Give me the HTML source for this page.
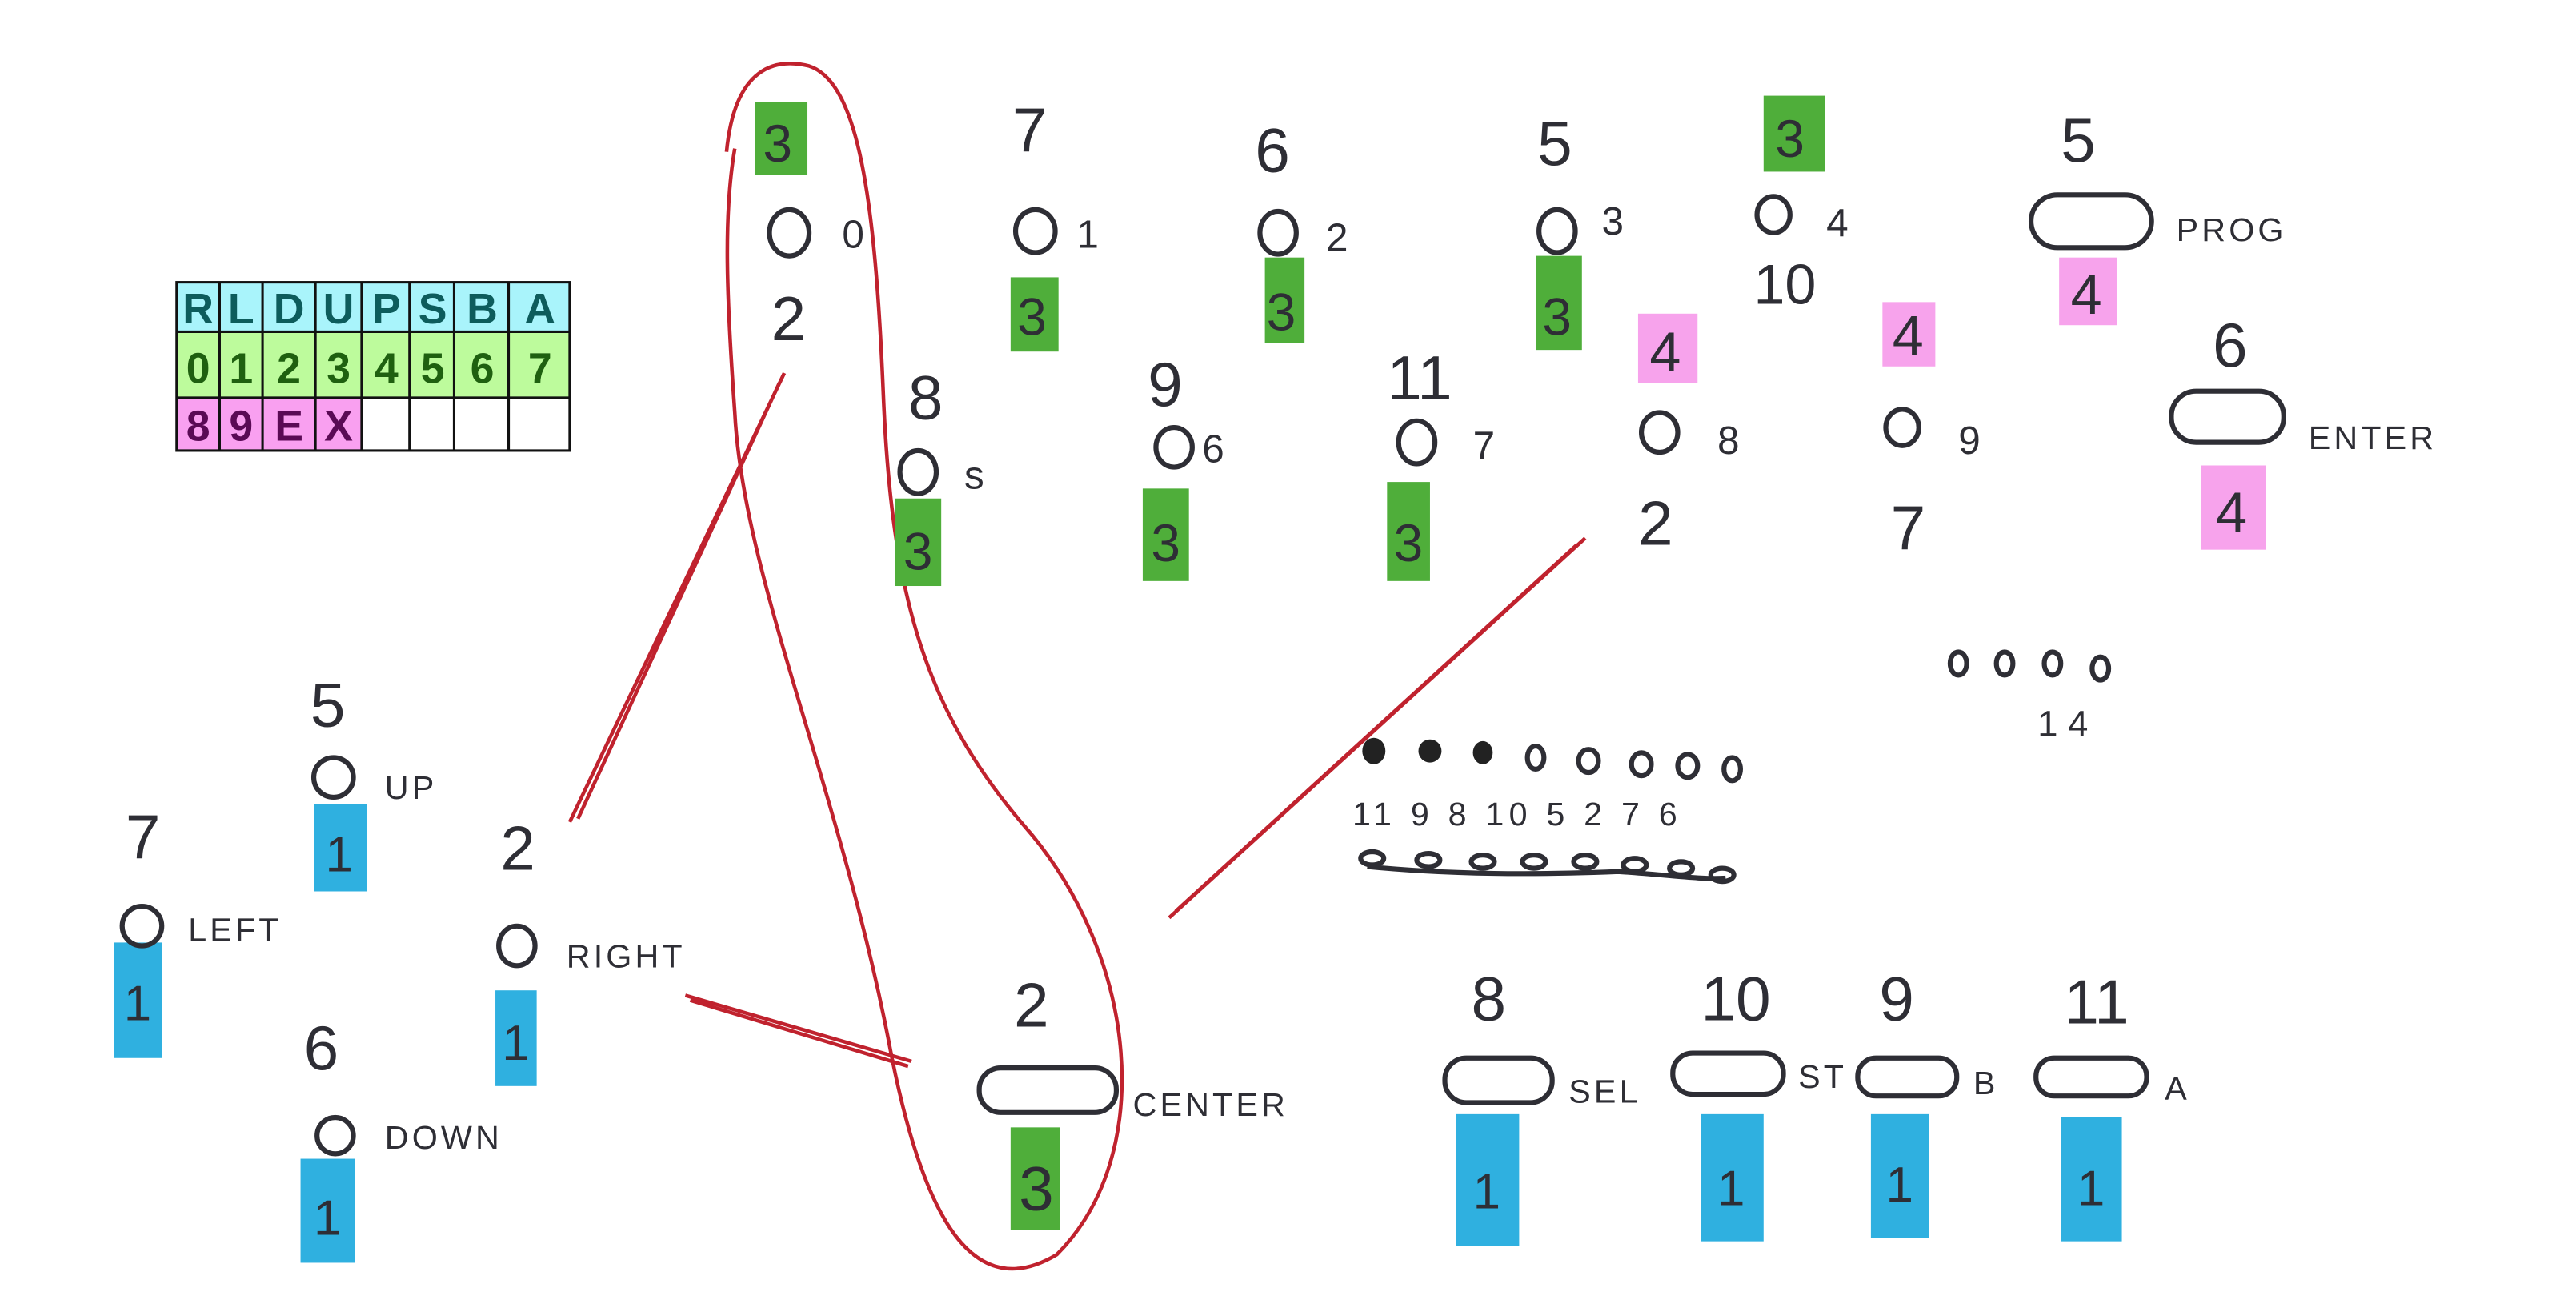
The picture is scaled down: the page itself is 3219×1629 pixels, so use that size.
<!DOCTYPE html>
<html><head><meta charset="utf-8"><style>
html,body{margin:0;padding:0;background:#fff;}
svg{display:block}
.h{font-family:"Liberation Sans",sans-serif;fill:#2e2e35;font-weight:normal}
.c{fill:none;stroke:#2e2e35;stroke-width:3}
.g{fill:#4fae3a}
.b{fill:#2fb0e0}
.p{fill:#f7a3ec}
.r{fill:none;stroke:#c0222e;stroke-width:2.2}
.t{font-family:"Liberation Sans",sans-serif;font-weight:bold;font-size:26px;text-anchor:middle}
</style></head><body>
<svg width="3219" height="1629" viewBox="0 0 1560 790" preserveAspectRatio="none">
<g>
<rect x="107" y="171" width="238" height="30" fill="#a9f4fb"/>
<rect x="107" y="201" width="238" height="40" fill="#bdfb9c"/>
<rect x="107" y="241" width="112" height="32" fill="#f9a0f0"/>
<g stroke="#111" stroke-width="1.5" fill="none">
<rect x="107" y="171" width="238" height="102"/>
<line x1="107" y1="201" x2="345" y2="201"/><line x1="107" y1="241" x2="345" y2="241"/>
<line x1="133" y1="171" x2="133" y2="273"/><line x1="159" y1="171" x2="159" y2="273"/>
<line x1="191" y1="171" x2="191" y2="273"/><line x1="219" y1="171" x2="219" y2="273"/>
<line x1="248" y1="171" x2="248" y2="273"/><line x1="275" y1="171" x2="275" y2="273"/>
<line x1="308" y1="171" x2="308" y2="273"/>
</g>
<g class="t" fill="#0d5c5c">
<text x="120" y="196">R</text><text x="146" y="196">L</text><text x="175" y="196">D</text><text x="205" y="196">U</text><text x="234" y="196">P</text><text x="262" y="196">S</text><text x="292" y="196">B</text><text x="327" y="196">A</text></g>
<g class="t" fill="#1f6010">
<text x="120" y="232">0</text><text x="146" y="232">1</text><text x="175" y="232">2</text><text x="205" y="232">3</text><text x="234" y="232">4</text><text x="262" y="232">5</text><text x="292" y="232">6</text><text x="327" y="232">7</text></g>
<g class="t" fill="#5a0a55">
<text x="120" y="267">8</text><text x="146" y="267">9</text><text x="175" y="267">E</text><text x="205" y="267">X</text></g>
</g>
<path class="r" d="M440 92 C445 40 470 35 490 40 C520 50 530 120 535 240 C540 360 560 430 620 500 C690 580 700 700 640 760 C590 790 560 740 540 640 C510 480 450 350 445 250 C440 180 438 130 445 90"/>
<path class="r" d="M475 226 L345 498 M472 232 L350 496"/>
<path class="r" d="M960 326 L708 556 M955 330 L712 552"/>
<path class="r" d="M415 603 L552 643 M418 606 L550 646"/>
<rect class="g" x="457" y="62" width="32" height="44"/>
<rect class="g" x="612" y="168" width="29" height="45"/>
<rect class="g" x="766" y="156" width="24" height="52"/>
<rect class="g" x="930" y="155" width="28" height="57"/>
<rect class="g" x="1068" y="58" width="37" height="46"/>
<rect class="g" x="542" y="302" width="28" height="53"/>
<rect class="g" x="692" y="296" width="28" height="56"/>
<rect class="g" x="840" y="292" width="26" height="60"/>
<rect class="g" x="612" y="683" width="30" height="62"/>
<rect class="p" x="1247" y="156" width="35" height="41"/>
<rect class="p" x="1333" y="282" width="39" height="51"/>
<rect class="p" x="992" y="190" width="36" height="42"/>
<rect class="p" x="1140" y="183" width="32" height="39"/>
<rect class="b" x="190" y="487" width="32" height="53"/>
<rect class="b" x="69" y="571" width="29" height="70"/>
<rect class="b" x="300" y="600" width="25" height="58"/>
<rect class="b" x="182" y="702" width="33" height="63"/>
<rect class="b" x="882" y="675" width="38" height="80"/>
<rect class="b" x="1030" y="675" width="38" height="77"/>
<rect class="b" x="1133" y="675" width="35" height="75"/>
<rect class="b" x="1248" y="677" width="37" height="75"/>
<g class="c">
<ellipse cx="478" cy="141" rx="12" ry="14"/>
<ellipse cx="627" cy="140" rx="12" ry="13"/>
<ellipse cx="774" cy="141" rx="11" ry="13"/>
<ellipse cx="943" cy="140" rx="11" ry="13"/>
<ellipse cx="1074" cy="130" rx="10" ry="11"/>
<ellipse cx="556" cy="286" rx="11" ry="13"/>
<ellipse cx="711" cy="271" rx="11" ry="12"/>
<ellipse cx="858" cy="268" rx="11" ry="13"/>
<ellipse cx="1005" cy="262" rx="11" ry="12"/>
<ellipse cx="1152" cy="259" rx="10" ry="11"/>
<ellipse cx="202" cy="471" rx="12" ry="12"/>
<ellipse cx="86" cy="561" rx="12" ry="12"/>
<ellipse cx="313" cy="573" rx="11" ry="12"/>
<ellipse cx="203" cy="688" rx="11" ry="11"/>
<rect x="1230" y="118" width="73" height="32" rx="16"/>
<rect x="1315" y="237" width="68" height="31" rx="15"/>
<rect x="593" y="647" width="83" height="27" rx="13"/>
<rect x="875" y="641" width="65" height="27" rx="13"/>
<rect x="1013" y="638" width="67" height="25" rx="12"/>
<rect x="1125" y="641" width="60" height="23" rx="11"/>
<rect x="1233" y="641" width="67" height="23" rx="11"/>
</g>
<g class="c" stroke-width="2">
<ellipse cx="1186" cy="402" rx="5" ry="7"/><ellipse cx="1214" cy="402" rx="5" ry="7"/><ellipse cx="1243" cy="402" rx="5" ry="7"/><ellipse cx="1272" cy="405" rx="5" ry="7"/>
<ellipse cx="962" cy="461" rx="6" ry="7"/><ellipse cx="994" cy="463" rx="6" ry="7"/><ellipse cx="1022" cy="464" rx="6" ry="7"/><ellipse cx="1049" cy="466" rx="5" ry="7"/>
<ellipse cx="930" cy="459" rx="5" ry="7"/>
<path d="M828 525 C880 530 930 530 980 528 C1010 530 1030 533 1045 532"/>
<ellipse cx="831" cy="520" rx="7" ry="4"/><ellipse cx="865" cy="521" rx="7" ry="4"/><ellipse cx="898" cy="522" rx="7" ry="4"/><ellipse cx="929" cy="522" rx="7" ry="4"/><ellipse cx="960" cy="522" rx="7" ry="4"/><ellipse cx="990" cy="524" rx="7" ry="4"/><ellipse cx="1018" cy="526" rx="7" ry="4"/><ellipse cx="1043" cy="530" rx="7" ry="4"/>
</g>
<g fill="#222"><ellipse cx="832" cy="455" rx="7" ry="8"/><ellipse cx="866" cy="455" rx="7" ry="7"/><ellipse cx="898" cy="456" rx="6" ry="7"/></g>
<g class="h" font-size="38">
<text x="613" y="92">7</text><text x="760" y="104">6</text><text x="931" y="100">5</text><text x="1248" y="98">5</text>
<text x="467" y="206">2</text><text x="1062" y="184" font-size="34">10</text>
<text x="1340" y="222">6</text><text x="550" y="254">8</text><text x="695" y="246">9</text><text x="840" y="242">11</text>
<text x="992" y="330">2</text><text x="1145" y="333">7</text>
<text x="188" y="440">5</text><text x="76" y="520">7</text><text x="303" y="527">2</text><text x="184" y="648">6</text>
<text x="614" y="622">2</text><text x="891" y="618">8</text><text x="1030" y="618">10</text><text x="1138" y="618">9</text><text x="1250" y="620">11</text>
</g>
<g class="h" font-size="24">
<text x="510" y="150">0</text><text x="652" y="150">1</text><text x="803" y="152">2</text><text x="970" y="142">3</text><text x="1106" y="143">4</text>
<text x="584" y="296">s</text><text x="728" y="280">6</text><text x="892" y="278">7</text><text x="1040" y="275">8</text><text x="1186" y="275">9</text>
<text x="1234" y="446" font-size="22">1 4</text>
<text x="819" y="500" font-size="20" letter-spacing="3">11 9 8 10 5 2 7 6</text>
</g>
<g class="h" font-size="20" letter-spacing="2">
<text x="1318" y="146">PROG</text><text x="1398" y="272">ENTER</text>
<text x="233" y="484">UP</text><text x="114" y="570">LEFT</text><text x="343" y="586">RIGHT</text><text x="233" y="696">DOWN</text>
<text x="686" y="676">CENTER</text><text x="950" y="668">SEL</text><text x="1089" y="659">ST</text><text x="1195" y="663">B</text><text x="1311" y="666">A</text>
</g>
<g class="h" font-size="32" fill="#1c3a18">
<text x="462" y="98">3</text><text x="616" y="203">3</text><text x="767" y="200">3</text><text x="934" y="203">3</text><text x="1075" y="95">3</text>
<text x="547" y="345">3</text><text x="697" y="340">3</text><text x="844" y="340">3</text><text x="617" y="733" font-size="38">3</text>
</g>
<g class="h" font-size="34" fill="#6b1a66">
<text x="1254" y="190">4</text><text x="1342" y="322">4</text><text x="999" y="225">4</text><text x="1146" y="215">4</text>
</g>
<g class="h" font-size="30" fill="#123">
<text x="197" y="528">1</text><text x="75" y="618">1</text><text x="304" y="642">1</text><text x="190" y="748">1</text>
<text x="892" y="732">1</text><text x="1040" y="730">1</text><text x="1142" y="728">1</text><text x="1258" y="730">1</text>
</g>
</svg>
</body></html>
